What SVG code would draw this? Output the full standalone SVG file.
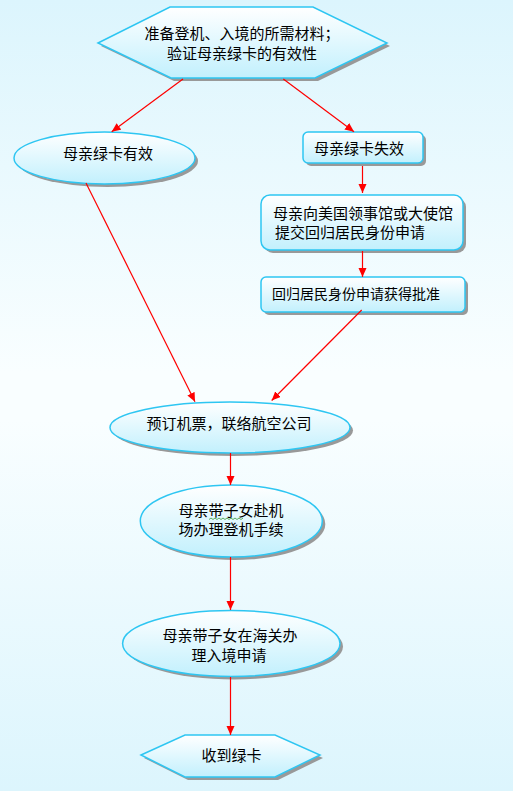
<svg xmlns="http://www.w3.org/2000/svg" width="513" height="791" viewBox="0 0 513 791">
<defs>
<linearGradient id="bg" x1="0" y1="0" x2="0" y2="1">
<stop offset="0" stop-color="#dcf5fd"/>
<stop offset="0.47" stop-color="#f9feff"/>
<stop offset="0.53" stop-color="#f9feff"/>
<stop offset="1" stop-color="#dcf5fd"/>
</linearGradient>
<linearGradient id="nf" x1="0" y1="0" x2="0" y2="1">
<stop offset="0" stop-color="#ffffff"/>
<stop offset="1" stop-color="#c2f0fd"/>
</linearGradient>
<marker id="ah" markerUnits="userSpaceOnUse" markerWidth="12" markerHeight="10" refX="9" refY="4" orient="auto">
<path d="M0,0 L9,4 L0,8 z" fill="#ff0000"/>
</marker>
<style>
.n{fill:url(#nf);stroke:#2ec6f2;stroke-width:1.5}
.sh{fill:#999999}
.t{font-family:"Noto Sans CJK SC","Noto Sans",sans-serif;font-size:15px;fill:#000;text-anchor:middle}
.c path{stroke:#ff0000;stroke-width:1.2;fill:none;marker-end:url(#ah)}
</style>
</defs>
<rect width="513" height="791" fill="url(#bg)"/>

<g id="n1">
<polygon class="sh" points="101,46 173,10 316,10 390,46 318,81 174,81"/>
<polygon class="n" points="98,43 170,7 313,7 387,43 315,78 171,78"/>
<text class="t" x="242" y="38.5">准备登机、入境的所需材料；</text>
<text class="t" x="242" y="58.8">验证母亲绿卡的有效性</text>
</g>

<g id="n2">
<ellipse class="sh" cx="107.5" cy="161" rx="90.5" ry="26"/>
<ellipse class="n" cx="104.5" cy="158" rx="90.5" ry="26"/>
<text class="t" x="108" y="158.5">母亲绿卡有效</text>
</g>

<g id="n3">
<rect class="sh" x="306" y="135" width="120" height="31" rx="5"/>
<rect class="n" x="303" y="132" width="120" height="31" rx="5"/>
<text class="t" x="359" y="153.5">母亲绿卡失效</text>
</g>

<g id="n4">
<rect class="sh" x="264" y="198" width="202" height="55" rx="9"/>
<rect class="n" x="261" y="195" width="202" height="55" rx="9"/>
<text class="t" x="363" y="218.5">母亲向美国领事馆或大使馆</text>
<text class="t" x="350" y="238">提交回归居民身份申请</text>
</g>

<g id="n5">
<rect class="sh" x="264" y="280" width="204" height="35" rx="5"/>
<rect class="n" x="261" y="277" width="204" height="35" rx="5"/>
<text class="t" x="356" y="299" style="font-size:14px">回归居民身份申请获得批准</text>
</g>

<g id="n6">
<ellipse class="sh" cx="233" cy="430.5" rx="120" ry="25.5"/>
<ellipse class="n" cx="230" cy="427.5" rx="120" ry="25.5"/>
<text class="t" x="229" y="429">预订机票，联络航空公司</text>
</g>

<g id="n7">
<ellipse class="sh" cx="234.3" cy="524" rx="91" ry="36"/>
<ellipse class="n" cx="231.3" cy="521" rx="91" ry="36"/>
<text class="t" x="231" y="515.5">母亲带子女赴机</text>
<text class="t" x="231" y="534.5">场办理登机手续</text>
<path d="M209,519.5 l2,-1.5 l2,1.5 l2,-1.5 l2,1.5 l2,-1.5 l2,1.5 l2,-1.5 l2,1.5 l2,-1.5 l2,1.5 l2,-1.5 l2,1.5 l2,-1.5 l2,1.5 l2,-1.5 l2,1.5 l2,-1.5" fill="none" stroke="#3a9a3a" stroke-width="0.8"/>
</g>

<g id="n8">
<ellipse class="sh" cx="234.3" cy="646.5" rx="108.7" ry="33"/>
<ellipse class="n" cx="231.3" cy="643.5" rx="108.7" ry="33"/>
<text class="t" x="230" y="641">母亲带子女在海关办</text>
<text class="t" x="229" y="660.5">理入境申请</text>
</g>

<g id="n9">
<polygon class="sh" points="144,758 188,738 278,738 323,758 278,780 188,780"/>
<polygon class="n" points="141,755 185,735 275,735 320,755 275,777 185,777"/>
<text class="t" x="231.5" y="760.5">收到绿卡</text>
</g>

<g id="connectors" class="c">
<path d="M183,79 L111.7,131.7"/>
<path d="M283.3,79 L354,131.7"/>
<path d="M362.5,166 L362.5,193"/>
<path d="M362.5,251 L362.5,277"/>
<path d="M86,183 L195,401.7"/>
<path d="M361.7,310 L271.7,400.5"/>
<path d="M230.5,453 L230.5,485"/>
<path d="M230.5,557 L230.5,610"/>
<path d="M230.5,677 L230.5,735"/>
</g>
</svg>
